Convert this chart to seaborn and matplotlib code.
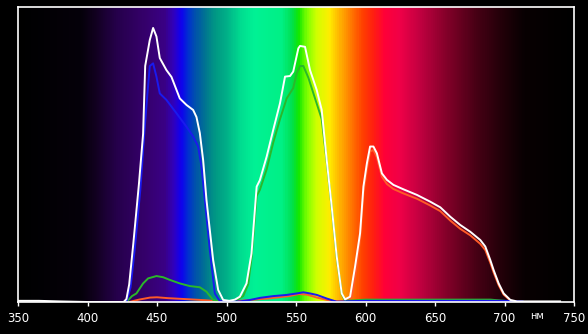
import numpy as np
import pandas as pd
import matplotlib
matplotlib.use("Agg")
import matplotlib.pyplot as plt
from matplotlib.colors import LinearSegmentedColormap
import seaborn as sns

# ---- data (relative intensity 0..1) ----
wl_white = [350, 365, 380, 400, 420, 426, 428, 430, 433, 437, 440, 441.5, 444.8, 447.2,
            449.6, 452, 456.8, 460.4, 466.4, 471.2, 476, 478.4, 480.8, 483.2, 485.6,
            490.4, 494, 497.6, 502, 506, 509.6, 514.4, 518, 521.7, 524, 528.9, 533.6,
            538.5, 542.1, 545.7, 548, 551.7, 552.9, 556.5, 560.1, 564.9, 568.5, 572.1,
            575.7, 579.3, 582.9, 585.3, 588.9, 592.5, 596.1, 598.5, 601, 603.3, 605.7,
            608.2, 611.8, 615.4, 620.1, 627.3, 637, 646.6, 653.8, 661, 668.2, 675.4,
            682.6, 686.2, 689.8, 692.2, 695.8, 699.4, 704.2, 709, 720, 740]
val_white = [0.004, 0.004, 0.002, 0.0, 0.0, 0.0, 0.01, 0.06, 0.2, 0.4, 0.57, 0.8, 0.888, 0.929,
             0.9, 0.827, 0.786, 0.763, 0.69, 0.668, 0.651, 0.627, 0.573, 0.481, 0.346,
             0.142, 0.041, 0.007, 0.004, 0.008, 0.018, 0.063, 0.165, 0.391, 0.413, 0.493, 0.583,
             0.674, 0.764, 0.766, 0.781, 0.86, 0.868, 0.865, 0.786, 0.719, 0.651, 0.481,
             0.323, 0.154, 0.029, 0.009, 0.018, 0.12, 0.233, 0.391, 0.47, 0.527, 0.527,
             0.504, 0.436, 0.414, 0.397, 0.382, 0.363, 0.34, 0.321, 0.289, 0.261, 0.238,
             0.21, 0.188, 0.142, 0.108, 0.063, 0.029, 0.007, 0.002, 0.002, 0.002]

wl_blue = [428, 431, 434, 438, 441, 443, 444.8, 447.2, 449.6, 452, 456.8, 464, 471.2, 476,
           479.6, 482, 484.4, 488, 491.6, 495.2, 505, 509.6, 517, 524, 533.6, 543.3, 550.5,
           555.3, 560.1, 565, 572, 579.3, 590, 600, 650, 700, 713]
val_blue = [0.0, 0.05, 0.18, 0.38, 0.58, 0.7, 0.8, 0.809, 0.764, 0.707, 0.685, 0.64, 0.594, 0.561,
            0.527, 0.459, 0.346, 0.176, 0.029, 0.003, 0.002, 0.002, 0.007, 0.014, 0.02, 0.024, 0.029,
            0.033, 0.029, 0.024, 0.012, 0.001, 0.003, 0.004, 0.004, 0.004, 0.002]

wl_green = [428, 432, 435.2, 440, 443.6, 449.6, 454.4, 459.2, 466.4, 473.6, 480.8, 485.6,
            490.4, 495, 505, 512, 515.6, 518, 521.7, 524, 528.9, 533.6, 538.5, 543.3, 548,
            550.5, 552.9, 555.3, 558.9, 563.7, 568.5, 572.1, 575.7, 579.3, 582.9, 585.3,
            590, 600, 650, 690, 700, 705]
val_green = [0.0, 0.02, 0.029, 0.063, 0.08, 0.088, 0.084, 0.075, 0.063, 0.054, 0.05, 0.035,
             0.007, 0.001, 0.0, 0.02, 0.06, 0.15, 0.36, 0.38, 0.45, 0.54, 0.62, 0.69, 0.725,
             0.775, 0.80, 0.80, 0.76, 0.69, 0.62, 0.475, 0.318, 0.15, 0.027, 0.005,
             0.005, 0.008, 0.008, 0.008, 0.004, 0.0]

wl_red = [430, 437, 445, 450, 458, 470, 485, 495, 505, 510, 530, 545, 552, 558, 565, 575, 585,
          590, 593, 596, 598.5, 601, 603.3, 605.7, 608.2, 611.8, 615.4, 620.1, 627.3, 637,
          646.6, 653.8, 661, 668.2, 675.4, 682.6, 686.2, 689.8, 692.2, 695.8, 699.4, 704.2, 709]
val_red = [0.0, 0.008, 0.015, 0.016, 0.013, 0.01, 0.006, 0.002, 0.001, 0.004, 0.012, 0.02, 0.027,
           0.025, 0.015, 0.004, 0.002, 0.015, 0.1, 0.21, 0.37, 0.45, 0.51, 0.515, 0.49, 0.425,
           0.4, 0.383, 0.368, 0.35, 0.327, 0.308, 0.276, 0.248, 0.226, 0.197, 0.176, 0.133, 0.1,
           0.057, 0.025, 0.005, 0.0]

x_ticks = [350, 400, 450, 500, 550, 600, 650, 700, 750]
unit_label = "нм"

# spectrum background nodes
spec_nm = [350, 395, 405, 420, 440, 455, 462, 467, 472, 478, 485, 492, 500, 510, 520, 540,
           547, 552, 558, 565, 574, 582, 590, 598, 606, 614, 625, 640, 660, 680, 700, 715, 750]
spec_col = ["#000000", "#05000a", "#120020", "#25004a", "#35006a", "#3a0085", "#3000c0",
            "#1000f0", "#0030d0", "#0055a8", "#007890", "#009a84", "#00b088", "#00dc90",
            "#00f295", "#00f085", "#00e050", "#10e800", "#80ff00", "#d0ff00", "#ffee00",
            "#ffb000", "#ff7800", "#ff4000", "#ff2010", "#ff0038", "#f00048", "#c00040",
            "#800028", "#480015", "#200008", "#080002", "#000000"]

# ---- build long table ----
frames = []
for name, w, v in [("red", wl_red, val_red), ("green", wl_green, val_green),
                   ("blue", wl_blue, val_blue), ("white", wl_white, val_white)]:
    frames.append(pd.DataFrame({"nm": w, "val": v, "ch": name}))
df = pd.concat(frames, ignore_index=True)

palette = {"red": "#ff5a28", "green": "#2ab82a", "blue": "#1a1aee", "white": "#ffffff"}

fig = plt.figure(figsize=(5.88, 3.34), dpi=100, facecolor="black")
ax = fig.add_axes([18 / 588, 32 / 334, (574 - 18) / 588, (302 - 7) / 334])
ax.set_facecolor("black")

# spectrum background
span = spec_nm[-1] - spec_nm[0]
cmap = LinearSegmentedColormap.from_list(
    "spec", [((n - spec_nm[0]) / span, c) for n, c in zip(spec_nm, spec_col)])
grad = np.linspace(0, 1, 800).reshape(1, -1)
ax.imshow(grad, cmap=cmap, aspect="auto", extent=[350, 750, -0.02, 1.0],
          zorder=0, interpolation="bilinear")

for ch in ["red", "green", "blue", "white"]:
    sns.lineplot(data=df[df.ch == ch], x="nm", y="val", color=palette[ch],
                 lw=1.4, ax=ax, zorder=3, legend=False, estimator=None, sort=False)

ax.set_xlim(350, 750)
ax.set_ylim(0, 1)
ax.set_xticks(x_ticks)
ax.set_xticklabels([str(t) for t in x_ticks])
ax.set_yticks([])
ax.set_xlabel("")
ax.set_ylabel("")
ax.tick_params(axis="x", colors="white", labelcolor="white", direction="out",
               length=3, width=1, pad=4, labelsize=8.5)
for s in ax.spines.values():
    s.set_color("white")
    s.set_linewidth(1.2)
    s.set_zorder(5)

fig.text(537 / 588, 1 - 316 / 334, unit_label, color="white", fontsize=7,
         ha="center", va="center")

fig.savefig("out.png", dpi=100, facecolor="black")
